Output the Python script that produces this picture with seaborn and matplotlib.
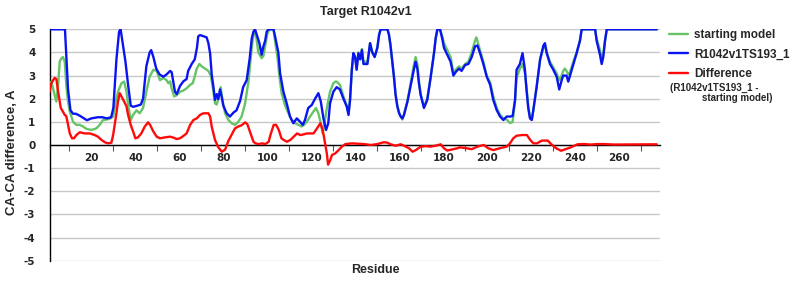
import matplotlib
matplotlib.use("Agg")
import matplotlib.pyplot as plt
import seaborn as sns
import pandas as pd
from matplotlib.ticker import FixedLocator

# ---------------- data ----------------
model_res = [1, 8, 8.6, 9.4, 10.5, 11.7, 13, 15, 18, 20, 23, 25, 27, 29, 30, 31.4, 32.6, 33.3, 34.4, 35.5,
             36.7, 37.9, 39, 41, 42.5, 43.5, 45, 46.5, 47.2, 48.2, 49.5, 51, 52.7, 54.2, 55.8, 56.5, 57.3,
             58, 58.8, 60.3, 61.8, 63.3, 64, 65.6, 67, 68, 68.6, 69.4, 71, 72.4, 73.2, 74, 74.7, 75.5,
             76.2, 77, 77.7, 78.5, 79.2, 80, 81.5, 83, 84.6, 86, 87.6, 89, 90.6, 92, 92.9, 93.7, 94.4,
             95.2, 96.4, 97.4, 98.2, 99, 99.7, 100.5, 102.8, 103.5, 105, 105.8, 107.3, 108.8, 110.3,
             111.8, 113.4, 114.9, 116.1, 117.1, 118.6, 120.2, 121.7, 123.2, 124.3, 125.5, 126.7, 127.7,
             128.5, 130, 131.5, 133, 134.6, 136.1, 136.9, 137.6, 138.4, 139.1, 139.9, 140.6, 141.4,
             142.2, 143, 143.7, 145.5, 146.7, 147.7, 148.8, 150, 150.8, 151.5, 154.6, 155.3, 156, 156.8,
             157.6, 158.3, 159.1, 159.9, 160.6, 161.4, 162.1, 163.7, 165.2, 166.7, 167.4, 168.2, 168.9,
             169.7, 171.2, 172.7, 174.2, 175.8, 176.5, 177.3, 178.5, 179.5, 180.3, 181.8, 183.3, 184.6,
             185.6, 187.1, 188.3, 189.9, 191.4, 192.9, 194.4, 195.5, 196.7, 198.2, 199.7, 201.3, 202.7,
             204.3, 205.8, 207.3, 208.8, 210.3, 211.5, 212.6, 213.3, 214.8, 216, 217.1, 217.8, 218.6,
             219.4, 220.2, 220.9, 222.4, 224, 225.5, 226.2, 227, 228.5, 230, 231.5, 232.7, 233.8, 234.5,
             236, 236.8, 237.6, 239.1, 240.6, 242.1, 242.9, 249, 249.7, 251.2, 252, 252.7, 253.5, 254.3,
             277]
model_val = [5.0, 5.0, 3.9, 2.4, 1.5, 1.35, 1.35, 1.25, 1.07, 1.15, 1.2, 1.2, 1.15, 1.2, 1.6, 3.7, 4.9, 5.0,
             4.3, 3.6, 2.6, 1.7, 1.65, 1.7, 1.75, 2.0, 3.4, 4.0, 4.1, 3.8, 3.3, 3.05, 2.95, 3.05, 3.2, 3.15,
             2.7, 2.3, 2.2, 2.55, 2.75, 2.85, 3.2, 3.5, 3.7, 4.2, 4.7, 4.75, 4.7, 4.65, 4.4, 3.95, 3.05,
             2.5, 1.95, 2.2, 1.98, 2.4, 2.1, 1.7, 1.37, 1.23, 1.4, 1.5, 1.9, 2.5, 2.8, 3.75, 4.6, 4.9,
             5.0, 4.76, 4.4, 3.9, 4.26, 4.5, 4.9, 5.0, 5.0, 4.7, 4.0, 3.1, 2.3, 1.8, 1.23, 0.94, 1.15,
             1.0, 0.87, 1.08, 1.6, 1.73, 2.0, 2.24, 1.88, 1.15, 0.65, 0.94, 1.8, 2.3, 2.5, 2.4, 2.0,
             1.66, 1.3, 1.95, 3.25, 3.97, 3.8, 3.25, 3.97, 3.7, 4.1, 3.5, 3.5, 4.4, 4.0, 3.8, 4.2, 4.76,
             5.0, 5.0, 4.76, 4.3, 3.6, 2.9, 2.16, 1.66, 1.37, 1.23, 1.15, 1.3, 1.88, 2.6, 3.3, 3.6, 3.3,
             2.67, 2.16, 1.6, 1.95, 2.9, 4.0, 4.6, 5.0, 5.0, 4.6, 4.2, 3.9, 3.6, 3.0, 3.15, 3.3, 3.2,
             3.46, 3.5, 3.8, 4.26, 4.3, 3.97, 3.5, 2.96, 2.6, 1.95, 1.5, 1.23, 1.08, 1.23, 1.23, 1.25,
             1.95, 3.25, 3.5, 3.97, 3.25, 2.4, 1.6, 1.15, 1.08, 1.5, 2.5, 3.7, 4.3, 4.4, 3.97, 3.5, 3.25,
             2.96, 2.4, 2.8, 3.0, 3.0, 2.74, 3.0, 3.5, 3.97, 4.5, 5.0, 5.0, 4.5, 3.9, 3.5, 3.8, 4.5, 5.0,
             5.0]

start_res = [1, 1.8, 3.3, 4.1, 4.9, 5.6, 6.4, 7.1, 7.9, 8.6, 9.4, 10.2, 11.7, 13.2, 14.7, 16.2, 17.7, 20,
             22.3, 23.8, 25.3, 26.8, 28.3, 29.9, 31.1, 32.1, 33.7, 34.9, 36, 36.7, 37.9, 39, 40.5, 42,
             43.5, 45, 46.5, 47.3, 48.2, 49.7, 51.2, 52.7, 54.2, 55, 55.8, 56.5, 57.6, 58.8, 60.3, 61.8,
             63.3, 64.9, 66.1, 67.1, 67.9, 69.1, 70.2, 71.7, 73.2, 74.3, 75.5, 76.2, 77, 77.7, 78.8,
             79.7, 80.8, 82.3, 83.8, 85.3, 86.8, 88.3, 89.9, 91.4, 92.9, 93.9, 94.9, 95.9, 97.4, 98.2,
             99, 100, 101, 102.8, 103.5, 104.6, 105.5, 106.5, 108, 109.6, 111.1, 112.6, 114.1, 115.6,
             116.7, 117.9, 119.4, 120.9, 122.1, 123.2, 124.3, 125.2, 126.2, 127.3, 128.5, 130, 130.9,
             131.5, 133, 134.6, 136.1, 136.9, 137.6, 138.4, 139.1, 139.9, 140.6, 141.4, 142.2, 143,
             143.7, 145.5, 146.7, 147.7, 148.8, 150, 150.8, 151.5, 154.6, 155.3, 156, 156.8, 157.6,
             158.3, 159.1, 159.9, 160.6, 161.4, 162.1, 163.7, 165.2, 166.7, 167.4, 168.2, 168.9, 169.7,
             171.2, 172.7, 174.2, 175.8, 176.5, 177.3, 178.5, 179.5, 180.3, 181.8, 183.3, 184.6, 185.6,
             187.1, 188.3, 189.9, 191.4, 192.9, 194.4, 195, 196.7, 198.2, 199.7, 201.3, 202.7, 204.3,
             205.8, 207.3, 208.8, 210.3, 211.5, 212.6, 213.3, 214.8, 216, 217.1, 217.8, 218.6, 219.4,
             220.2, 220.9, 222.4, 224, 225.5, 226.2, 227, 228.5, 230, 231.5, 232.7, 233.8, 234.5, 235.2,
             236, 236.8, 237.6, 239.1, 240.6, 242.1, 242.9, 249, 249.7, 251.2, 252, 252.7, 253.5, 254.3,
             277]
start_val = [2.67, 2.74, 2.16, 1.88, 2.6, 3.6, 3.75, 3.8, 3.6, 2.6, 1.88, 1.44, 1.0, 0.87, 0.87, 0.8, 0.7,
             0.65, 0.72, 0.87, 1.08, 1.1, 1.13, 1.23, 1.88, 2.3, 2.67, 2.74, 2.3, 1.73, 1.08, 1.3, 1.5,
             1.37, 1.6, 2.3, 2.96, 3.1, 3.25, 3.2, 2.8, 2.9, 2.8, 2.67, 2.75, 2.45, 2.1, 2.15, 2.3, 2.35,
             2.45, 2.6, 2.67, 3.0, 3.3, 3.5, 3.4, 3.3, 3.2, 3.0, 2.3, 1.8, 1.75, 2.0, 2.5, 1.88, 1.37,
             1.08, 0.94, 0.87, 1.0, 1.23, 1.8, 2.74, 4.2, 4.9, 4.7, 4.0, 3.75, 3.85, 4.26, 4.8, 5.0, 5.0,
             4.5, 3.8, 2.96, 2.24, 1.73, 1.37, 1.08, 0.94, 0.87, 0.8, 0.87, 1.0, 1.23, 1.44, 1.6, 1.37,
             0.94, 0.5, 1.08, 1.73, 2.3, 2.67, 2.74, 2.74, 2.6, 2.1, 1.7, 1.35, 1.95, 3.25, 3.97, 3.8,
             3.3, 4.0, 3.75, 4.15, 3.6, 3.6, 4.4, 4.0, 3.85, 4.2, 4.76, 5.0, 5.0, 4.76, 4.3, 3.6, 2.9,
             2.2, 1.7, 1.4, 1.25, 1.1, 1.3, 1.9, 2.7, 3.5, 3.8, 3.5, 2.8, 2.2, 1.65, 2.0, 2.9, 4.0, 4.6,
             5.0, 5.0, 4.7, 4.4, 4.1, 3.8, 3.1, 3.25, 3.4, 3.3, 3.5, 3.6, 4.0, 4.5, 4.65, 4.1, 3.6, 3.0,
             2.7, 2.1, 1.6, 1.3, 1.15, 1.1, 0.95, 1.0, 1.9, 2.9, 3.3, 3.5, 3.1, 2.5, 1.7, 1.2, 1.1, 1.5,
             2.5, 3.7, 4.2, 4.3, 4.0, 3.6, 3.35, 3.1, 2.8, 3.0, 3.2, 3.3, 3.2, 3.05, 3.15, 3.6, 4.0, 4.5,
             5.0, 5.0, 4.6, 4.1, 3.8, 3.9, 4.5, 5.0, 5.0]

diff_res = [1, 1.8, 3.3, 4.1, 4.9, 6.1, 7.1, 7.9, 8.6, 9.4, 10.2, 11.2, 12.1, 13.2, 14.7, 17, 19.3, 21.5,
            23, 24.6, 26.1, 27.6, 29.1, 29.9, 30.6, 31.4, 32.1, 32.9, 33.7, 34.9, 36, 36.7, 37.9, 39,
            40, 41.2, 42.7, 44.3, 45.8, 46.7, 48.2, 49.7, 51.2, 53.5, 55.8, 57.3, 58.8, 60.3, 61.8,
            63.3, 64.9, 66.4, 67.9, 69.4, 70.9, 73.2, 74, 74.7, 75.5, 76.2, 77.7, 79.3, 80.8, 82.3,
            83.8, 85.3, 86.8, 88.3, 89.9, 90.9, 92.1, 93.7, 94.6, 96.1, 97.6, 99.1, 100.6, 101.4,
            102.9, 104, 105.2, 106.4, 107.4, 108.9, 110.5, 112, 113.5, 115, 116.5, 118, 119.5, 121,
            122.6, 124.1, 124.9, 125.6, 126.4, 127.1, 127.6, 128.6, 129.4, 130.9, 132.4, 133.9, 135.5,
            138.5, 144, 147, 150, 153, 154.6, 156, 158.3, 160.6, 162.1, 164.4, 166, 167.5, 169.7, 172,
            174.3, 176.5, 178.8, 180.3, 181.8, 184.1, 186.4, 187.5, 190.5, 192.9, 195.5, 198.4, 200.4,
            202.7, 205.7, 208.8, 210.3, 211.8, 213.3, 215.7, 218, 219.5, 221, 222.5, 224.8, 227.5, 229,
            231.3, 233.5, 235, 238, 241, 244, 247, 250, 253, 257.5, 277]
diff_val = [2.3, 2.67, 2.9, 2.85, 2.3, 1.6, 1.44, 1.3, 1.25, 0.87, 0.5, 0.29, 0.29, 0.43, 0.55, 0.5, 0.5,
            0.43, 0.36, 0.22, 0.12, 0.07, 0.1, 0.43, 0.87, 1.37, 1.88, 2.24, 2.1, 1.88, 1.66, 1.3, 0.87,
            0.58, 0.29, 0.33, 0.5, 0.8, 0.98, 0.87, 0.58, 0.36, 0.29, 0.33, 0.36, 0.32, 0.26, 0.29,
            0.39, 0.5, 0.87, 1.08, 1.15, 1.3, 1.37, 1.37, 1.23, 0.8, 0.5, 0.22, -0.1, -0.29, -0.2, 0.18,
            0.45, 0.72, 0.8, 0.85, 0.98, 0.9, 0.58, 0.14, 0.07, 0.04, 0.07, 0.04, 0.14, 0.43, 0.87,
            0.87, 0.65, 0.29, 0.22, 0.14, 0.22, 0.36, 0.5, 0.43, 0.46, 0.5, 0.5, 0.5, 0.72, 0.94, 0.72,
            0.43, 0.0, -0.4, -0.85, -0.65, -0.43, -0.36, -0.22, -0.07, 0.04, 0.07, 0.04, 0.0, 0.04,
            0.12, 0.1, 0.03, -0.03, 0.03, -0.03, -0.14, -0.29, -0.22, -0.07, -0.05, -0.07, -0.03, 0.03,
            -0.14, -0.24, -0.19, -0.14, -0.1, -0.14, -0.18, -0.07, 0.0, -0.14, -0.22, -0.14, -0.07,
            0.07, 0.29, 0.4, 0.43, 0.43, 0.22, 0.07, 0.07, 0.19, 0.19, 0.04, -0.14, -0.25, -0.2, -0.1,
            0.03, 0.04, 0.02, 0.04, 0.04, 0.02, 0.03]

series_names = ["starting model", "R1042v1TS193_1", "Difference"]
x_tick_labels = [20, 40, 60, 80, 100, 120, 140, 160, 180, 200, 220, 240, 260]
x_minor_ticks = [10, 30, 50, 70, 90, 110, 130, 150, 170, 190, 210, 230, 250, 270]
y_ticks = [-5, -4, -3, -2, -1, 0, 1, 2, 3, 4, 5]

# ---------------- build table ----------------
df = pd.concat([
    pd.DataFrame({"Residue": start_res, "value": start_val, "series": series_names[0]}),
    pd.DataFrame({"Residue": model_res, "value": model_val, "series": series_names[1]}),
    pd.DataFrame({"Residue": diff_res, "value": diff_val, "series": series_names[2]}),
], ignore_index=True)

sns.set_theme(style="white")
plt.rcParams["font.family"] = ["Liberation Sans", "DejaVu Sans"]

palette = {series_names[0]: "#66c466", series_names[1]: "#0a14f0", series_names[2]: "#ff0a0a"}

fig = plt.figure(figsize=(8, 3), dpi=100)
ax = fig.add_axes([50 / 800, 1 - 260.7 / 300, 610 / 800, (260.7 - 29.3) / 300])

sns.lineplot(data=df, x="Residue", y="value", hue="series", hue_order=series_names,
             palette=palette, estimator=None, sort=False, linewidth=1.7, ax=ax, zorder=3)

ax.set_xlim(1.2, 278.5)
ax.set_ylim(-5, 5)

# horizontal grid
ax.set_yticks(y_ticks)
ax.yaxis.grid(True, color="#c8c8c8", linewidth=1.0, zorder=0)
ax.xaxis.grid(False)
ax.set_axisbelow(True)

# spines
for s in ["top", "right"]:
    ax.spines[s].set_visible(False)
ax.spines["left"].set_color("black")
ax.spines["left"].set_linewidth(1.0)
ax.spines["bottom"].set_position(("data", 0))
ax.spines["bottom"].set_color("black")
ax.spines["bottom"].set_linewidth(1.0)

ax.set_xticks(x_tick_labels)
ax.set_xticklabels([str(v) for v in x_tick_labels], family="DejaVu Sans", fontweight="bold", fontsize=7.5)
ax.xaxis.set_minor_locator(FixedLocator(x_minor_ticks))
ax.tick_params(axis="x", which="major", length=0, pad=6)
ax.tick_params(axis="x", which="minor", length=4, width=0.8, color="#555555", direction="out", bottom=True)

ax.set_yticklabels([str(v) for v in y_ticks], family="DejaVu Sans", fontweight="bold", fontsize=7.5)
ax.tick_params(axis="y", length=0, pad=10.5)

ax.set_xlabel("")
ax.set_ylabel("")
fig.text(12 / 800, 1 - 152 / 300, "CA-CA difference, A", rotation=90, ha="center", va="center",
         fontsize=9.5, fontweight="bold")
fig.text(375 / 800, 1 - 270 / 300, "Residue", ha="center", va="center", fontsize=9, fontweight="bold")
fig.text(366 / 800, 1 - 12 / 300, "Target R1042v1", ha="center", va="center", fontsize=9, fontweight="bold")

# legend
handles, labels = ax.get_legend_handles_labels()
ax.legend(handles=handles, labels=labels, loc="upper left",
          bbox_to_anchor=(669 / 800, 1 - 29 / 300), bbox_transform=fig.transFigure,
          frameon=False, handlelength=1.6, handletextpad=0.5, labelspacing=0.62,
          borderpad=0, borderaxespad=0, prop={"weight": "bold", "size": 8.5})
fig.text(670 / 800, 1 - 88 / 300, "(R1042v1TS193_1 -", ha="left", va="center", fontsize=7, fontweight="bold")
fig.text(702 / 800, 1 - 98 / 300, "starting model)", ha="left", va="center", fontsize=7, fontweight="bold")

fig.savefig("out.png", dpi=100, facecolor="white")
